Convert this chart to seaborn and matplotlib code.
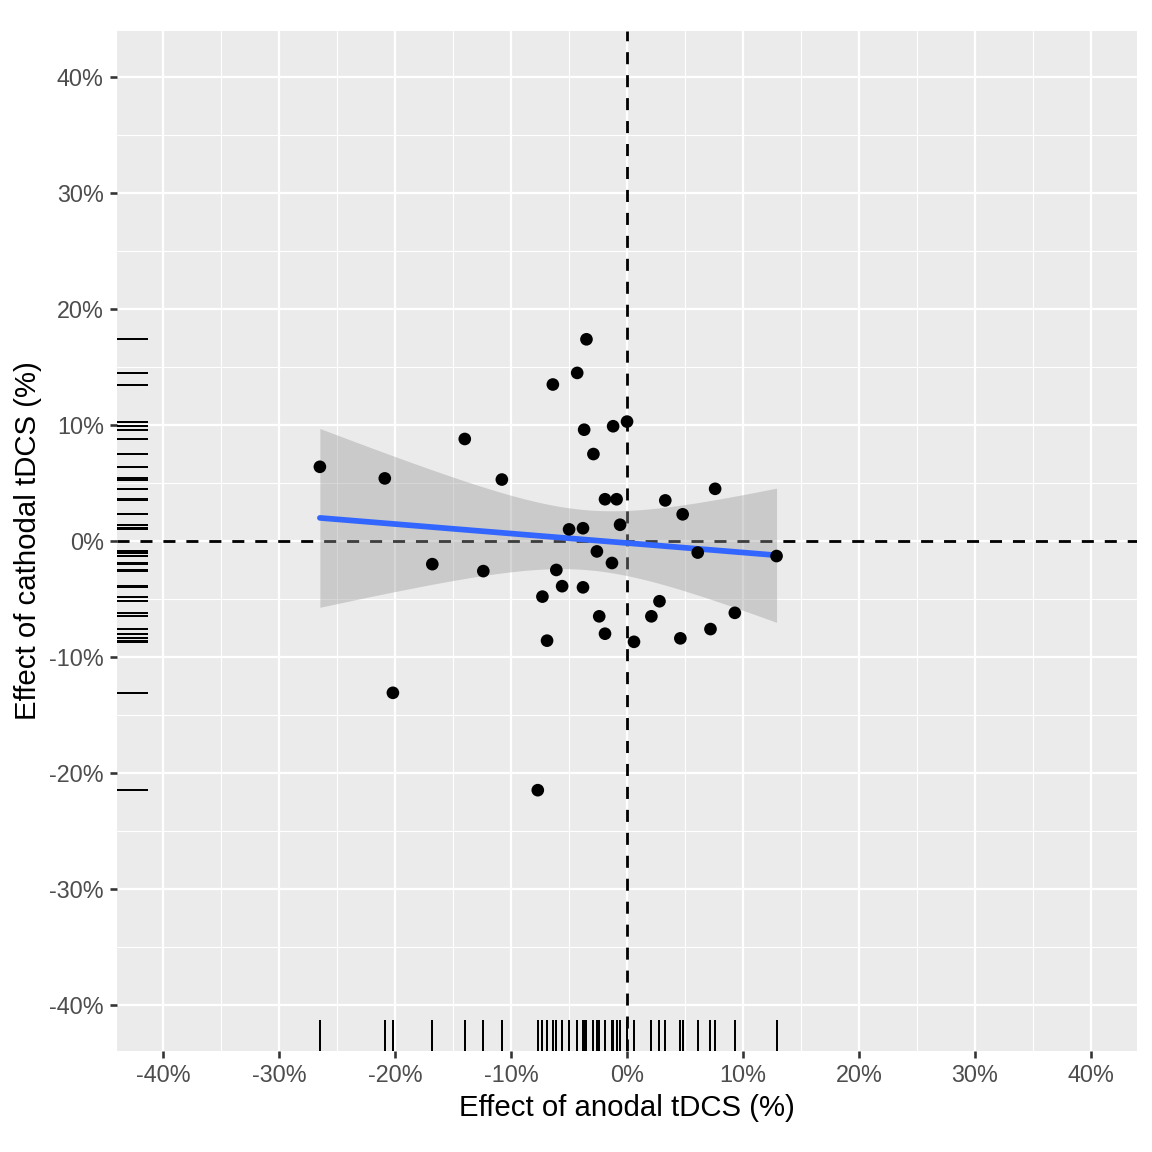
import numpy as np
import pandas as pd
import matplotlib
matplotlib.use("Agg")
import matplotlib.pyplot as plt
from matplotlib.ticker import MultipleLocator, FuncFormatter
import seaborn as sns

# effects (percent)
anodal = [-26.5, -20.9, -14.0, -10.8, -16.8, -12.4, -20.2, -3.5, -4.3, -6.4,
          0.0, -1.2, -3.7, -2.9, 7.6, -1.9, -0.9, 3.3, 4.8, -0.6,
          -3.8, -5.0, -2.6, 6.1, 12.9, -1.3, -6.1, -5.6, -3.8, -7.3,
          2.8, -2.4, 2.1, 9.3, 7.2, -1.9, -6.9, 0.6, 4.6, -7.7]
cathodal = [6.4, 5.4, 8.8, 5.3, -2.0, -2.6, -13.1, 17.4, 14.5, 13.5,
            10.3, 9.9, 9.6, 7.5, 4.5, 3.6, 3.6, 3.5, 2.3, 1.4,
            1.1, 1.0, -0.9, -1.0, -1.3, -1.9, -2.5, -3.9, -4.0, -4.8,
            -5.2, -6.5, -6.5, -6.2, -7.6, -8.0, -8.6, -8.7, -8.4, -21.5]
tick_vals = [-40, -30, -20, -10, 0, 10, 20, 30, 40]

df = pd.DataFrame({"anodal": anodal, "cathodal": cathodal})

sns.set_style("darkgrid", {"axes.facecolor": "#EBEBEB", "grid.color": "white"})
plt.rcParams["font.family"] = ["Liberation Sans", "DejaVu Sans"]

fig = plt.figure(figsize=(8, 8), dpi=144)
ax = fig.add_axes([0.1016, 0.0877, 0.8854, 0.8854])

# reference lines
ax.axvline(0, color="black", lw=1.4, dashes=(4.3, 3.9), zorder=2)
ax.axhline(0, color="black", lw=1.4, dashes=(4.3, 3.9), zorder=2)

# linear fit with analytic 95% band (like geom_smooth(method="lm"))
x = df["anodal"].to_numpy()
y = df["cathodal"].to_numpy()
n = len(x)
b1, b0 = np.polyfit(x, y, 1)
resid = y - (b0 + b1 * x)
s = np.sqrt(np.sum(resid ** 2) / (n - 2))
xs = np.linspace(x.min(), x.max(), 200)
se = s * np.sqrt(1 / n + (xs - x.mean()) ** 2 / np.sum((x - x.mean()) ** 2))
t = 2.024
yhat = b0 + b1 * xs
ax.fill_between(xs, yhat - t * se, yhat + t * se, color="#999999", alpha=0.4,
                lw=0, zorder=3)
sns.regplot(data=df, x="anodal", y="cathodal", scatter=False, ci=None, ax=ax,
            line_kws=dict(color="#3366FF", lw=2.85, zorder=4))

sns.scatterplot(data=df, x="anodal", y="cathodal", color="black", s=40,
                edgecolor="none", ax=ax, zorder=5)
sns.rugplot(data=df, x="anodal", height=0.03, color="black", lw=1.3, ax=ax)
sns.rugplot(data=df, y="cathodal", height=0.03, color="black", lw=1.3, ax=ax)

ax.set_xlim(-44, 44)
ax.set_ylim(-44, 44)
ax.set_xticks(tick_vals)
ax.set_yticks(tick_vals)
ax.xaxis.set_minor_locator(MultipleLocator(5))
ax.yaxis.set_minor_locator(MultipleLocator(5))
pct = FuncFormatter(lambda v, p: f"{v:.0f}%")
ax.xaxis.set_major_formatter(pct)
ax.yaxis.set_major_formatter(pct)
ax.grid(which="major", color="white", lw=1.1)
ax.grid(which="minor", color="white", lw=0.55)
ax.set_axisbelow(True)
for sp in ax.spines.values():
    sp.set_visible(False)
ax.tick_params(which="major", length=3.7, width=1.3, color="#333333",
               labelsize=11.7, labelcolor="#4D4D4D", pad=2.9,
               bottom=True, left=True)
ax.tick_params(which="minor", length=0)

ax.set_xlabel("Effect of anodal tDCS (%)", fontsize=14.7, color="black", labelpad=3.5)
ax.set_ylabel("Effect of cathodal tDCS (%)", fontsize=14.7, color="black", labelpad=3.5)

fig.savefig("out.png", dpi=144, facecolor="white")
